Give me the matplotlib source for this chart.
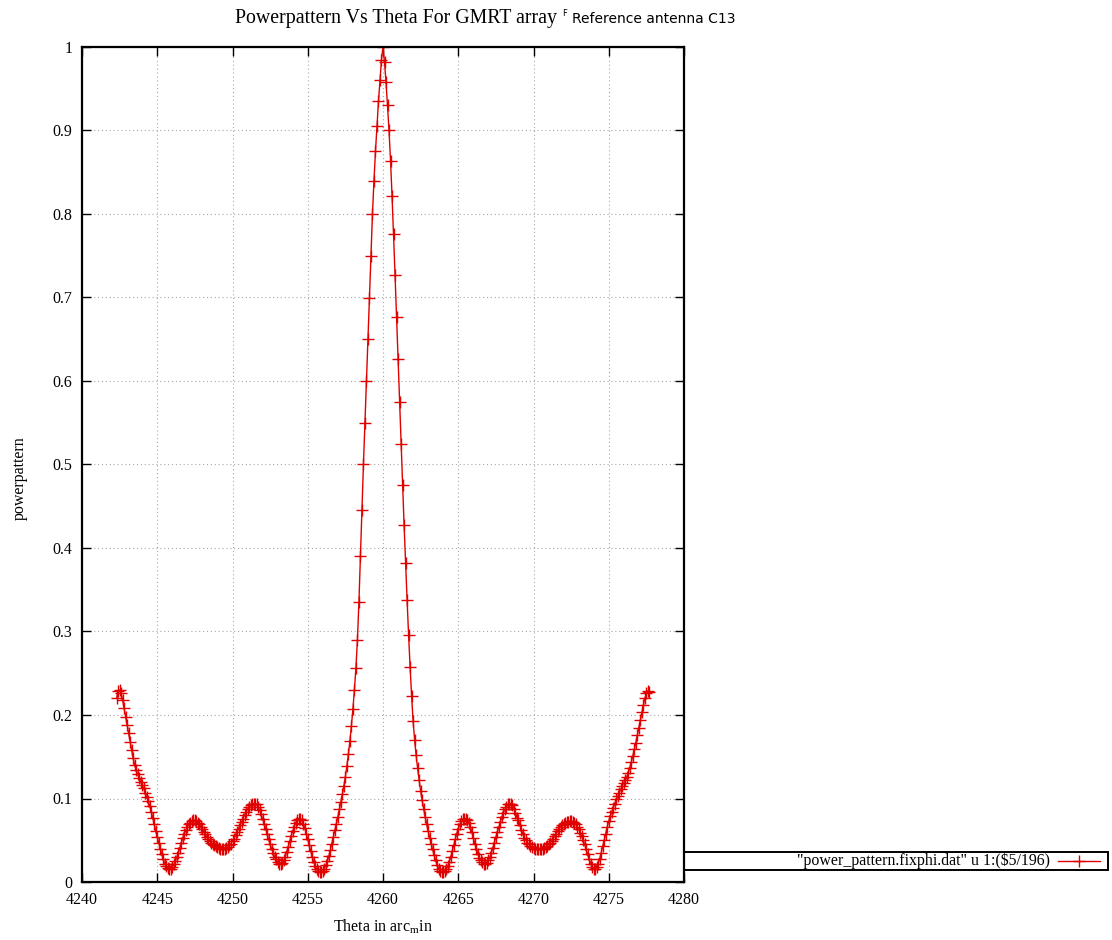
import matplotlib
matplotlib.use("Agg")
import matplotlib.pyplot as plt
from matplotlib.ticker import MultipleLocator, FuncFormatter
from matplotlib.patches import Rectangle
from matplotlib.lines import Line2D

plt.rcParams['font.family'] = ['Liberation Serif', 'DejaVu Serif']
plt.rcParams['mathtext.fontset'] = 'custom'
plt.rcParams['mathtext.rm'] = 'Liberation Serif'
plt.rcParams['mathtext.it'] = 'Liberation Serif'

# theta in arcmin, sampled every 0.1 (one row per arcmin)
theta = [
    4242.3, 4242.4, 4242.5, 4242.6, 4242.7, 4242.8, 4242.9,
    4243.0, 4243.1, 4243.2, 4243.3, 4243.4, 4243.5, 4243.6, 4243.7, 4243.8, 4243.9,
    4244.0, 4244.1, 4244.2, 4244.3, 4244.4, 4244.5, 4244.6, 4244.7, 4244.8, 4244.9,
    4245.0, 4245.1, 4245.2, 4245.3, 4245.4, 4245.5, 4245.6, 4245.7, 4245.8, 4245.9,
    4246.0, 4246.1, 4246.2, 4246.3, 4246.4, 4246.5, 4246.6, 4246.7, 4246.8, 4246.9,
    4247.0, 4247.1, 4247.2, 4247.3, 4247.4, 4247.5, 4247.6, 4247.7, 4247.8, 4247.9,
    4248.0, 4248.1, 4248.2, 4248.3, 4248.4, 4248.5, 4248.6, 4248.7, 4248.8, 4248.9,
    4249.0, 4249.1, 4249.2, 4249.3, 4249.4, 4249.5, 4249.6, 4249.7, 4249.8, 4249.9,
    4250.0, 4250.1, 4250.2, 4250.3, 4250.4, 4250.5, 4250.6, 4250.7, 4250.8, 4250.9,
    4251.0, 4251.1, 4251.2, 4251.3, 4251.4, 4251.5, 4251.6, 4251.7, 4251.8, 4251.9,
    4252.0, 4252.1, 4252.2, 4252.3, 4252.4, 4252.5, 4252.6, 4252.7, 4252.8, 4252.9,
    4253.0, 4253.1, 4253.2, 4253.3, 4253.4, 4253.5, 4253.6, 4253.7, 4253.8, 4253.9,
    4254.0, 4254.1, 4254.2, 4254.3, 4254.4, 4254.5, 4254.6, 4254.7, 4254.8, 4254.9,
    4255.0, 4255.1, 4255.2, 4255.3, 4255.4, 4255.5, 4255.6, 4255.7, 4255.8, 4255.9,
    4256.0, 4256.1, 4256.2, 4256.3, 4256.4, 4256.5, 4256.6, 4256.7, 4256.8, 4256.9,
    4257.0, 4257.1, 4257.2, 4257.3, 4257.4, 4257.5, 4257.6, 4257.7, 4257.8, 4257.9,
    4258.0, 4258.1, 4258.2, 4258.3, 4258.4, 4258.5, 4258.6, 4258.7, 4258.8, 4258.9,
    4259.0, 4259.1, 4259.2, 4259.3, 4259.4, 4259.5, 4259.6, 4259.7, 4259.8, 4259.9,
    4260.0, 4260.1, 4260.2, 4260.3, 4260.4, 4260.5, 4260.6, 4260.7, 4260.8, 4260.9,
    4261.0, 4261.1, 4261.2, 4261.3, 4261.4, 4261.5, 4261.6, 4261.7, 4261.8, 4261.9,
    4262.0, 4262.1, 4262.2, 4262.3, 4262.4, 4262.5, 4262.6, 4262.7, 4262.8, 4262.9,
    4263.0, 4263.1, 4263.2, 4263.3, 4263.4, 4263.5, 4263.6, 4263.7, 4263.8, 4263.9,
    4264.0, 4264.1, 4264.2, 4264.3, 4264.4, 4264.5, 4264.6, 4264.7, 4264.8, 4264.9,
    4265.0, 4265.1, 4265.2, 4265.3, 4265.4, 4265.5, 4265.6, 4265.7, 4265.8, 4265.9,
    4266.0, 4266.1, 4266.2, 4266.3, 4266.4, 4266.5, 4266.6, 4266.7, 4266.8, 4266.9,
    4267.0, 4267.1, 4267.2, 4267.3, 4267.4, 4267.5, 4267.6, 4267.7, 4267.8, 4267.9,
    4268.0, 4268.1, 4268.2, 4268.3, 4268.4, 4268.5, 4268.6, 4268.7, 4268.8, 4268.9,
    4269.0, 4269.1, 4269.2, 4269.3, 4269.4, 4269.5, 4269.6, 4269.7, 4269.8, 4269.9,
    4270.0, 4270.1, 4270.2, 4270.3, 4270.4, 4270.5, 4270.6, 4270.7, 4270.8, 4270.9,
    4271.0, 4271.1, 4271.2, 4271.3, 4271.4, 4271.5, 4271.6, 4271.7, 4271.8, 4271.9,
    4272.0, 4272.1, 4272.2, 4272.3, 4272.4, 4272.5, 4272.6, 4272.7, 4272.8, 4272.9,
    4273.0, 4273.1, 4273.2, 4273.3, 4273.4, 4273.5, 4273.6, 4273.7, 4273.8, 4273.9,
    4274.0, 4274.1, 4274.2, 4274.3, 4274.4, 4274.5, 4274.6, 4274.7, 4274.8, 4274.9,
    4275.0, 4275.1, 4275.2, 4275.3, 4275.4, 4275.5, 4275.6, 4275.7, 4275.8, 4275.9,
    4276.0, 4276.1, 4276.2, 4276.3, 4276.4, 4276.5, 4276.6, 4276.7, 4276.8, 4276.9,
    4277.0, 4277.1, 4277.2, 4277.3, 4277.4, 4277.5, 4277.6, 4277.7,
]

# normalised power ($5/196), same row layout as theta
power = [
    0.220, 0.229, 0.230, 0.226, 0.218, 0.208, 0.198,
    0.188, 0.178, 0.168, 0.158, 0.148, 0.140, 0.134, 0.129, 0.125, 0.120,
    0.116, 0.112, 0.107, 0.102, 0.097, 0.091, 0.084, 0.077, 0.069, 0.061,
    0.054, 0.047, 0.040, 0.033, 0.027, 0.022, 0.019, 0.017, 0.016, 0.016,
    0.018, 0.021, 0.025, 0.030, 0.035, 0.041, 0.047, 0.053, 0.058, 0.062,
    0.066, 0.069, 0.071, 0.073, 0.074, 0.074, 0.073, 0.071, 0.069, 0.066,
    0.063, 0.060, 0.057, 0.054, 0.051, 0.049, 0.047, 0.045, 0.044, 0.043,
    0.042, 0.041, 0.040, 0.040, 0.040, 0.040, 0.041, 0.042, 0.044, 0.046,
    0.049, 0.052, 0.056, 0.060, 0.064, 0.068, 0.072, 0.076, 0.080, 0.084,
    0.087, 0.090, 0.092, 0.093, 0.094, 0.094, 0.093, 0.090, 0.086, 0.081,
    0.076, 0.070, 0.064, 0.058, 0.051, 0.045, 0.040, 0.035, 0.030, 0.027,
    0.024, 0.022, 0.022, 0.023, 0.026, 0.030, 0.036, 0.042, 0.049, 0.055,
    0.061, 0.066, 0.071, 0.074, 0.076, 0.076, 0.074, 0.070, 0.065, 0.058,
    0.051, 0.044, 0.037, 0.030, 0.024, 0.019, 0.015, 0.013, 0.012, 0.012,
    0.013, 0.016, 0.020, 0.025, 0.031, 0.038, 0.046, 0.054, 0.062, 0.070,
    0.078, 0.087, 0.096, 0.105, 0.115, 0.126, 0.139, 0.153, 0.169, 0.187,
    0.207, 0.230, 0.256, 0.290, 0.335, 0.390, 0.445, 0.500, 0.550, 0.600,
    0.650, 0.700, 0.750, 0.800, 0.840, 0.875, 0.905, 0.935, 0.960, 0.985,
    1.000, 0.982, 0.958, 0.930, 0.900, 0.864, 0.822, 0.776, 0.727, 0.677,
    0.626, 0.575, 0.525, 0.476, 0.428, 0.382, 0.338, 0.296, 0.258, 0.223,
    0.193, 0.170, 0.152, 0.136, 0.122, 0.109, 0.098, 0.088, 0.078, 0.069,
    0.061, 0.053, 0.046, 0.039, 0.032, 0.026, 0.020, 0.016, 0.013, 0.012,
    0.012, 0.013, 0.015, 0.019, 0.024, 0.030, 0.037, 0.044, 0.051, 0.058,
    0.064, 0.069, 0.073, 0.075, 0.076, 0.076, 0.074, 0.071, 0.066, 0.060,
    0.053, 0.046, 0.040, 0.034, 0.029, 0.026, 0.024, 0.022, 0.022, 0.023,
    0.026, 0.030, 0.035, 0.041, 0.047, 0.054, 0.060, 0.066, 0.072, 0.078,
    0.083, 0.087, 0.090, 0.093, 0.094, 0.094, 0.092, 0.088, 0.083, 0.077,
    0.074, 0.068, 0.062, 0.057, 0.053, 0.050, 0.047, 0.045, 0.043, 0.042,
    0.041, 0.040, 0.040, 0.040, 0.040, 0.040, 0.040, 0.041, 0.042, 0.043,
    0.045, 0.047, 0.049, 0.052, 0.055, 0.058, 0.061, 0.064, 0.066, 0.068,
    0.070, 0.071, 0.072, 0.072, 0.073, 0.073, 0.072, 0.071, 0.069, 0.066,
    0.063, 0.059, 0.055, 0.050, 0.045, 0.039, 0.033, 0.027, 0.022, 0.018,
    0.016, 0.016, 0.018, 0.022, 0.028, 0.035, 0.043, 0.050, 0.058, 0.066,
    0.073, 0.079, 0.084, 0.089, 0.094, 0.099, 0.103, 0.107, 0.111, 0.115,
    0.119, 0.122, 0.126, 0.131, 0.137, 0.144, 0.151, 0.159, 0.167, 0.176,
    0.185, 0.194, 0.203, 0.212, 0.220, 0.226, 0.229, 0.228,
]

legend_label = '"power_pattern.fixphi.dat" u 1:(\\$5/196)'

W, H = 1112, 940
fig = plt.figure(figsize=(W / 100, H / 100), dpi=100)
ax = fig.add_axes([82 / W, 1 - 882 / H, 602 / W, 835 / H])

line_color = '#e00000'
ax.plot(theta, power, color=line_color, linewidth=1.0, marker='+',
        markersize=8, markeredgewidth=1.0)

ax.set_xlim(4240, 4280)
ax.set_ylim(0, 1)
ax.xaxis.set_major_locator(MultipleLocator(5))
ax.yaxis.set_major_locator(MultipleLocator(0.1))
ax.yaxis.set_major_formatter(FuncFormatter(lambda v, p: '%g' % round(v, 2)))
ax.tick_params(direction='in', length=6.5, width=1.0, top=True, right=True,
               labelsize=11.5, pad=7)
for s in ax.spines.values():
    s.set_linewidth(1.6)
ax.grid(True, color='#a8a8a8', linestyle=(0, (1, 2.5)), linewidth=0.8)

# axis labels
fig.text(20 / W, 1 - 478 / H, 'powerpattern', rotation=90, ha='center',
         va='center', fontsize=11.5)
fig.text(383 / W, 1 - 927 / H, 'Theta in arc$_\\mathrm{m}$in', ha='center',
         va='center', fontsize=11.5)

# title (serif part + sans part, as in the original)
fig.text(557 / W, 1 - 18 / H, 'Powerpattern Vs Theta For GMRT array',
         ha='right', va='center', fontsize=14.3)
fig.text(562 / W, 1 - 14 / H, 'F', ha='left', va='center', fontsize=6,
         family='DejaVu Sans')
fig.text(572 / W, 1 - 19 / H, 'Reference antenna C13', ha='left',
         va='center', fontsize=10, family='DejaVu Sans')

# key box to the right of the plot
fig.patches.append(Rectangle((684 / W, 1 - 870 / H), (1108 - 684) / W, 18 / H,
                             transform=fig.transFigure, fill=False,
                             edgecolor='black', linewidth=1.4))
fig.text(1050 / W, 1 - 861 / H, legend_label, ha='right', va='center',
         fontsize=11.4)
fig.lines.append(Line2D([1058 / W, 1100 / W], [1 - 861 / H, 1 - 861 / H],
                        transform=fig.transFigure, color=line_color,
                        linewidth=1.0))
fig.lines.append(Line2D([1079 / W], [1 - 861 / H], transform=fig.transFigure,
                        color=line_color, marker='+', markersize=8,
                        markeredgewidth=1.0))

fig.savefig('out.png', dpi=100)
